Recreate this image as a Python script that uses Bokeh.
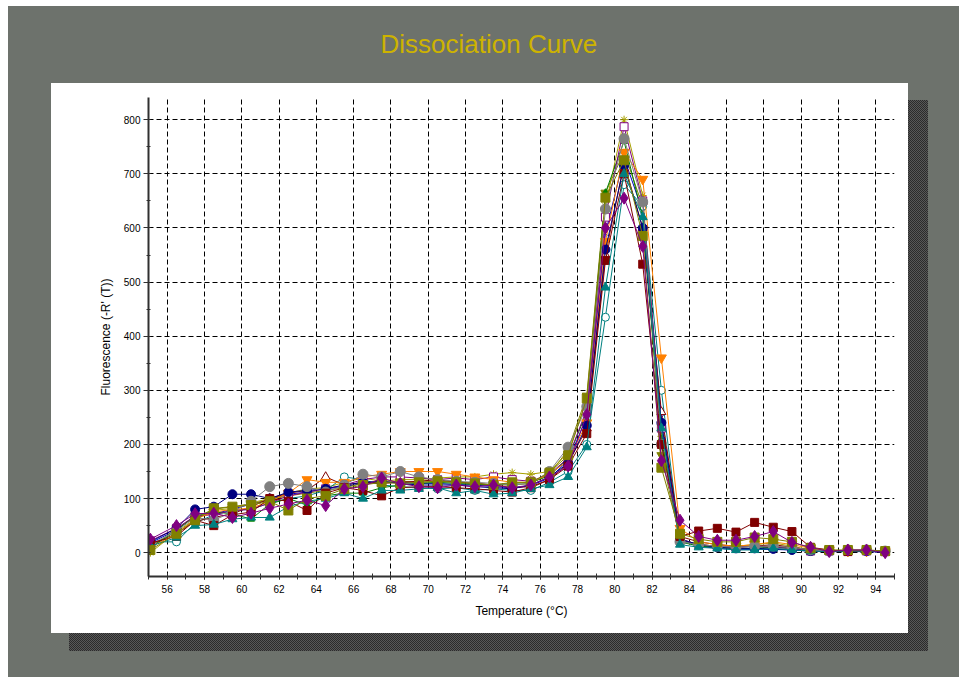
from bokeh.plotting import figure
from bokeh.models import SingleIntervalTicker, Range1d, Title
from bokeh.embed import file_html
from bokeh.resources import INLINE

# ---------------- data ----------------
temps = [55.1, 56.5, 57.5, 58.5, 59.5, 60.5, 61.5, 62.5, 63.5, 64.5,
         65.5, 66.5, 67.5, 68.5, 69.5, 70.5, 71.5, 72.5, 73.5, 74.5,
         75.5, 76.5, 77.5, 78.5, 79.5, 80.5, 81.5, 82.5, 83.5, 84.5,
         85.5, 86.5, 87.5, 88.5, 89.5, 90.5, 91.5, 92.5, 93.5, 94.5]

navy_circle = [20, 45, 80, 85, 108, 108, 100, 112, 115, 118, 125, 130, 132, 128, 125, 125, 125, 122, 120, 118,
               125, 140, 165, 235, 560, 715, 600, 240, 25, 15, 10, 8, 8, 7, 5, 3, 3, 3, 3, 2]
maroon_square = [18, 30, 60, 50, 70, 75, 100, 95, 78, 110, 120, 115, 105, 120, 122, 122, 120, 118, 115, 112,
                 120, 135, 160, 220, 540, 700, 533, 200, 30, 40, 45, 38, 56, 47, 39, 10, 5, 2, 5, 2]
olive_square = [5, 35, 60, 82, 85, 88, 95, 78, 100, 105, 118, 125, 130, 128, 130, 132, 130, 128, 125, 130,
                130, 148, 180, 285, 656, 725, 585, 157, 35, 25, 20, 20, 28, 25, 20, 8, 5, 5, 5, 3]
gray_circle = [15, 40, 65, 60, 75, 95, 122, 128, 122, 112, 125, 145, 140, 150, 140, 135, 132, 130, 128, 125,
               128, 150, 195, 270, 635, 765, 648, 200, 20, 15, 12, 10, 12, 12, 10, 5, 3, 5, 5, 3]
teal_triangle = [12, 28, 50, 52, 62, 65, 65, 85, 95, 100, 110, 100, 115, 115, 118, 120, 110, 115, 108, 110,
                 118, 125, 140, 195, 490, 700, 620, 230, 15, 10, 8, 5, 5, 8, 5, 3, 2, 3, 3, 2]
orange_invtri = [10, 35, 62, 75, 80, 82, 95, 110, 135, 130, 130, 140, 145, 150, 150, 150, 145, 140, 135, 130,
                 130, 145, 170, 240, 575, 740, 690, 360, 45, 20, 15, 12, 15, 20, 15, 8, 5, 3, 3, 2]
green_triangle = [10, 40, 70, 75, 72, 62, 90, 100, 88, 105, 110, 110, 120, 125, 128, 130, 128, 126, 125, 128,
                  130, 142, 175, 260, 665, 760, 620, 210, 20, 12, 10, 8, 8, 10, 8, 5, 3, 3, 3, 2]
maroon_open_tri = [15, 35, 58, 65, 72, 85, 100, 110, 115, 140, 125, 130, 128, 130, 132, 135, 130, 128, 125, 120,
                   122, 135, 165, 230, 550, 720, 600, 260, 30, 20, 15, 12, 12, 15, 10, 5, 3, 3, 3, 2]
teal_open_circle = [20, 20, 55, 70, 78, 80, 92, 100, 105, 115, 140, 135, 125, 122, 120, 118, 120, 115, 118, 115,
                    115, 130, 150, 200, 435, 680, 640, 300, 20, 15, 10, 8, 8, 10, 8, 5, 3, 3, 3, 2]
purple_open_square = [22, 45, 68, 70, 78, 80, 92, 105, 112, 118, 125, 135, 140, 140, 138, 135, 138, 135, 140, 135,
                      132, 145, 175, 265, 620, 787, 650, 230, 25, 15, 12, 10, 12, 10, 8, 3, 3, 3, 3, 2]
olive_star = [0, 38, 62, 78, 82, 92, 100, 110, 118, 120, 130, 138, 132, 135, 135, 138, 140, 140, 145, 148,
              145, 150, 185, 280, 640, 800, 660, 215, 20, 15, 12, 12, 15, 18, 12, 5, 3, 3, 3, 2]
olive_invtri = [8, 45, 65, 80, 85, 90, 98, 105, 110, 115, 120, 128, 130, 132, 130, 132, 130, 128, 125, 125,
                128, 145, 190, 290, 665, 740, 640, 180, 25, 15, 12, 10, 12, 12, 10, 5, 3, 3, 3, 2]
blue_cross = [18, 42, 68, 72, 80, 90, 98, 108, 112, 118, 122, 128, 130, 130, 128, 128, 126, 125, 122, 120,
              124, 138, 170, 250, 590, 730, 630, 250, 25, 12, 8, 6, 6, 6, 5, 3, 2, 2, 2, 1]
purple_diamond = [25, 50, 72, 73, 65, 73, 82, 90, 97, 87, 118, 122, 138, 128, 122, 120, 125, 122, 125, 120,
                  125, 140, 160, 255, 600, 655, 566, 170, 60, 30, 23, 23, 30, 39, 19, 10, 2, 5, 5, 0]

title_text = "Dissociation Curve"
x_label = "Temperature (°C)"
y_label = "Fluorescence (-R' (T))"

# (values, color, marker, filled, size)
series = [
    (blue_cross, "#0000C0", "x", False, 6),
    (olive_invtri, "#808000", "inverted_triangle", True, 9),
    (olive_star, "#A8A000", "asterisk", False, 8),
    (teal_open_circle, "#008080", "circle", False, 8),
    (maroon_open_tri, "#800000", "triangle", False, 9),
    (green_triangle, "#008000", "triangle", True, 7),
    (purple_open_square, "#800080", "square", False, 8),
    (orange_invtri, "#FF8000", "inverted_triangle", True, 10),
    (navy_circle, "#000080", "circle", True, 9),
    (gray_circle, "#808080", "circle", True, 10),
    (maroon_square, "#800000", "square", True, 8),
    (teal_triangle, "#008080", "triangle", True, 9),
    (olive_square, "#808000", "square", True, 9),
    (purple_diamond, "#800080", "diamond", True, 12),
]

W, H = 959, 677
bg = "#6D726C"
shadow_dark = "#2b2b2b"
shadow_light = "#585858"

css_bg = (
    "linear-gradient(#ffffff,#ffffff) 0px 0px / 8px 100% no-repeat, "
    "linear-gradient(#ffffff,#ffffff) 0px 0px / 100% 6px no-repeat, "
    "linear-gradient(#ffffff,#ffffff) 51px 83px / 857px 550px no-repeat, "
    f"linear-gradient({bg},{bg}) 0px 0px / 69px 100% no-repeat, "
    f"linear-gradient({bg},{bg}) 0px 0px / 100% 100px no-repeat, "
    f"linear-gradient({bg},{bg}) 928px 0px / 40px 100% no-repeat, "
    f"linear-gradient({bg},{bg}) 0px 651px / 100% 40px no-repeat, "
    f"repeating-conic-gradient({shadow_light} 0% 25%, {shadow_dark} 0% 50%) 0px 0px / 2px 2px"
)

p = figure(width=W, height=H, x_range=Range1d(55, 95), y_range=Range1d(-44, 841),
           output_backend="svg", toolbar_location=None,
           min_border_left=148, min_border_right=65, min_border_top=97, min_border_bottom=101,
           border_fill_color=None, background_fill_color=None, outline_line_color=None,
           styles={"background": css_bg})

# spacer (nearest the frame) then the visible title above it
spacer = Title(text=" ", text_font_size="10px", standoff=21)
p.add_layout(spacer, "above")
main_title = Title(text=title_text, align="left", offset=232, standoff=10,
                   text_font="Liberation Sans", text_font_size="26px",
                   text_font_style="normal", text_color="#CDB300")
p.add_layout(main_title, "above")

p.xaxis.ticker = SingleIntervalTicker(interval=2, num_minor_ticks=2)
p.yaxis.ticker = SingleIntervalTicker(interval=100, num_minor_ticks=2)

for ax in (p.xaxis, p.yaxis):
    ax.axis_line_color = "#303030"
    ax.axis_line_width = 2
    ax.major_tick_line_color = "#303030"
    ax.minor_tick_line_color = "#303030"
    ax.major_label_text_font = "Liberation Sans"
    ax.major_label_text_font_size = "10px"
    ax.major_label_text_color = "#000000"
    ax.axis_label_text_font = "Liberation Sans"
    ax.axis_label_text_font_size = "12px"
    ax.axis_label_text_font_style = "normal"
    ax.axis_label_text_color = "#000000"

p.xaxis.axis_label = x_label
p.yaxis.axis_label = y_label
p.xaxis.major_tick_in = 3
p.xaxis.major_tick_out = 3
p.xaxis.minor_tick_in = 3
p.xaxis.minor_tick_out = 3
p.xaxis.major_label_standoff = 5
p.xaxis.axis_label_standoff = 8
p.yaxis.major_tick_in = 0
p.yaxis.major_tick_out = 5
p.yaxis.minor_tick_in = 2
p.yaxis.minor_tick_out = 2
p.yaxis.major_label_standoff = 3
p.yaxis.axis_label_standoff = 8

for g in (p.xgrid, p.ygrid):
    g.grid_line_color = "#000000"
    g.grid_line_dash = "5 3"
    g.grid_line_width = 1

for vals, color, marker, filled, size in series:
    p.line(temps, vals, line_color=color, line_width=1)
    p.scatter(temps, vals, marker=marker, size=size, line_color=color,
              fill_color=color if filled else "white", line_width=1)

open("out.html", "w").write(file_html(p, INLINE))
